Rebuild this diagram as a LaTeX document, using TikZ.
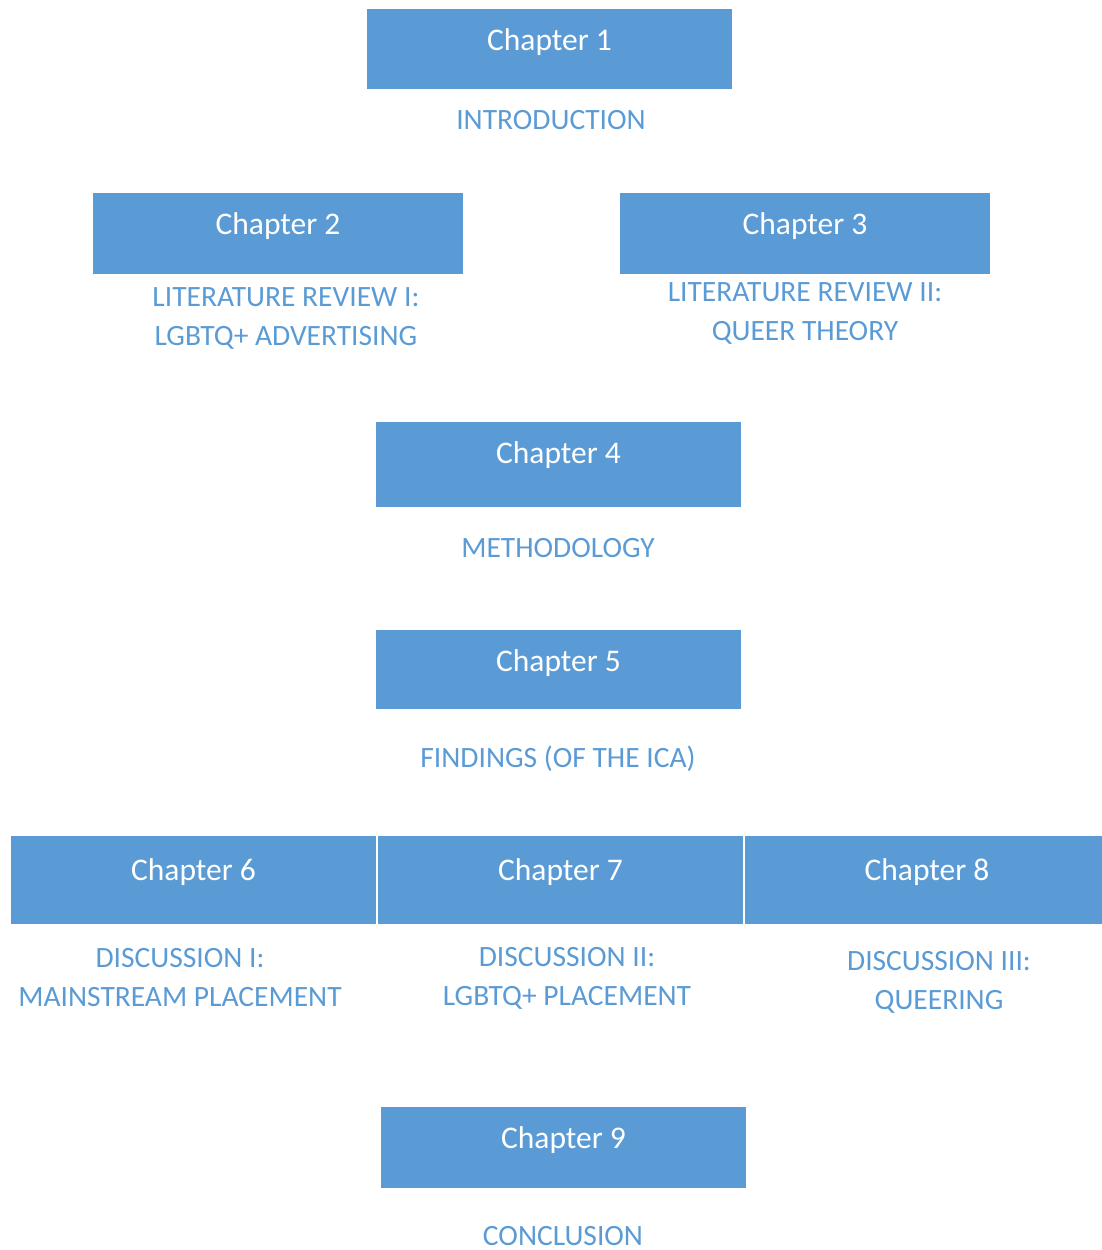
\documentclass[tikz,border=0pt]{standalone}
\usepackage{fontspec}
\setmainfont{Carlito}
\definecolor{chblue}{HTML}{5B9BD5}
\begin{document}
\begin{tikzpicture}[x=1pt,y=-1pt,
  chrect/.style={fill=chblue,draw=none,inner sep=0pt,anchor=north west},
  chtext/.style={inner sep=0pt,text=white,font=\fontsize{31.5}{36}\selectfont},
  chone/.style={text=chblue,inner sep=0pt,font=\fontsize{29.5}{39}\selectfont},
  chlabel/.style={chone,align=center}]
\useasboundingbox (0,0) rectangle (1102,1250);
% boxes
\node[chrect,minimum width=365pt,minimum height=80pt] (b1) at (367,9) {};
\node[chtext] (c1) at (549.5,42) {Chapter 1};
\node[chrect,minimum width=370pt,minimum height=81pt] (b2) at (93,193) {};
\node[chtext] (c2) at (278,226) {Chapter 2};
\node[chrect,minimum width=370pt,minimum height=81pt] (b3) at (620,193) {};
\node[chtext] (c3) at (805,226) {Chapter 3};
\node[chrect,minimum width=365pt,minimum height=85pt] (b4) at (376,422) {};
\node[chtext] (c4) at (558.5,455) {Chapter 4};
\node[chrect,minimum width=365pt,minimum height=79pt] (b5) at (376,630) {};
\node[chtext] (c5) at (558.5,663) {Chapter 5};
\node[chrect,minimum width=365pt,minimum height=88pt] (b6) at (11,836) {};
\node[chtext] (c6) at (193.5,872) {Chapter 6};
\node[chrect,minimum width=365pt,minimum height=88pt] (b7) at (378,836) {};
\node[chtext] (c7) at (560.5,872) {Chapter 7};
\node[chrect,minimum width=357pt,minimum height=88pt] (b8) at (745,836) {};
\node[chtext] (c8) at (927,872) {Chapter 8};
\node[chrect,minimum width=365pt,minimum height=81pt] (b9) at (381,1107) {};
\node[chtext] (c9) at (563.5,1140) {Chapter 9};
% labels
\node[chone] (l1) at (551,120) {INTRODUCTION};
\node[chlabel] (l2) at (286,318) {LITERATURE REVIEW I:\\LGBTQ+ ADVERTISING};
\node[chlabel] (l3) at (805,313) {LITERATURE REVIEW II:\\QUEER THEORY};
\node[chone] (l4) at (558,548) {METHODOLOGY};
\node[chone] (l5) at (558,759) {FINDINGS (OF THE ICA)};
\node[chlabel] (l6) at (180,978) {DISCUSSION I:\\MAINSTREAM PLACEMENT};
\node[chlabel] (l7) at (567,978) {DISCUSSION II:\\LGBTQ+ PLACEMENT};
\node[chlabel] (l8) at (939,982) {DISCUSSION III:\\QUEERING};
\node[chone] (l9) at (563,1236) {CONCLUSION};
\end{tikzpicture}
\end{document}
